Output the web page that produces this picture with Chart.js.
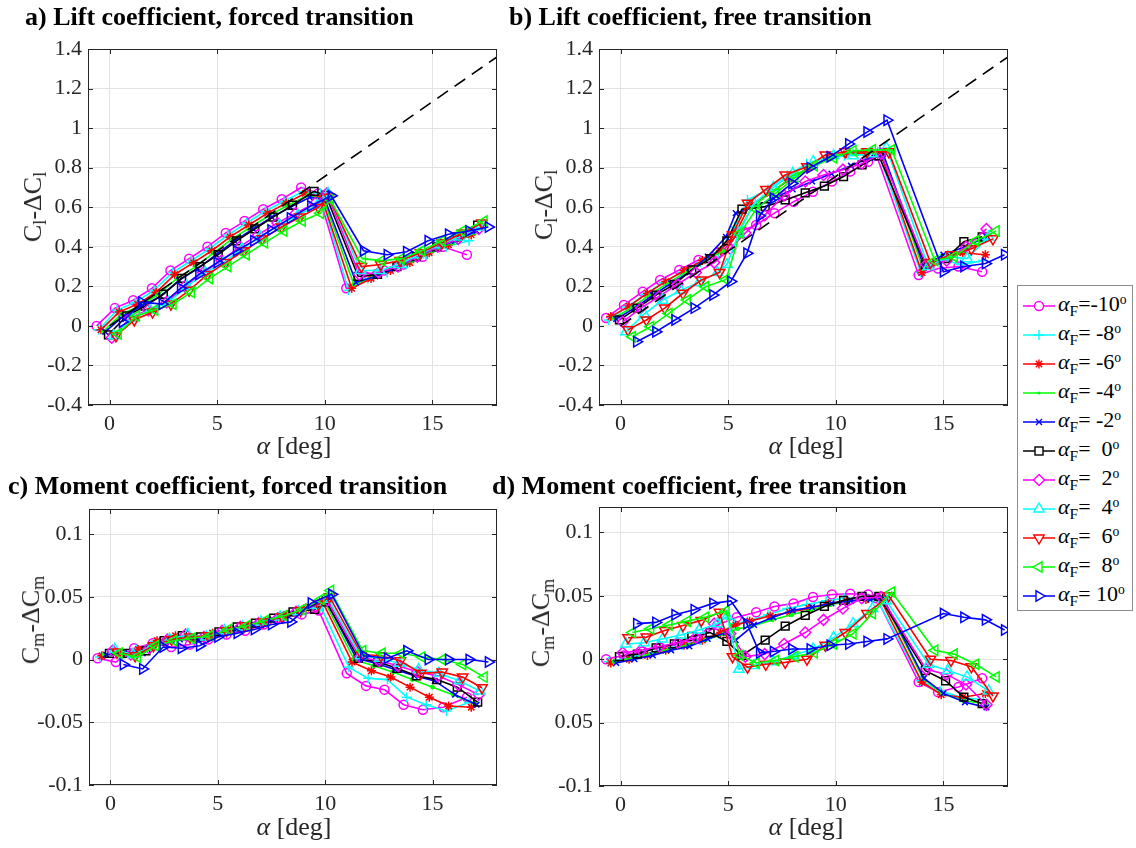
<!DOCTYPE html>
<html>
<head>
<meta charset="utf-8">
<script src="https://cdn.jsdelivr.net/npm/chart.js@4/dist/chart.umd.min.js"></script>
<style>
  body { margin: 0; background: #fff; }
  #fig { position: relative; width: 1136px; height: 848px; overflow: hidden;
         font-family: "Liberation Serif", "Times New Roman", serif; color: #000; }
  #fig canvas { position: absolute; }
  .title { position: absolute; font-weight: bold; font-size: 26px; line-height: 26px; white-space: nowrap; }
  .xlab { position: absolute; font-size: 26px; line-height: 30px; white-space: nowrap;
          transform: translateX(-50%); color: #262626; }
  .ylab { position: absolute; font-size: 26px; line-height: 30px; white-space: nowrap;
          transform: translate(-50%, -50%) rotate(-90deg); color: #262626; }
  .ylab sub { font-size: 70%; vertical-align: -0.3em; line-height: 0; }
  #legend { position: absolute; left: 1017px; top: 285px; width: 114px; height: 324px;
            border: 1px solid #8c8c8c; background: #fff; }
  .entry { position: absolute; left: 0; height: 24px; width: 114px; }
  .entry svg { position: absolute; left: 5px; top: 2px; }
  .entry span { position: absolute; left: 40px; top: -3px; font-size: 22px; line-height: 26px;
                white-space: pre; }
  .entry sub { font-size: 70%; vertical-align: -0.35em; line-height: 0; }
  .entry sup { font-size: 62%; vertical-align: 0.55em; line-height: 0; }
</style>
</head>
<body>
<div id="fig">
  <canvas id="pa" width="504" height="416" style="left:8px;top:29px"></canvas>
  <canvas id="pb" width="504" height="416" style="left:519px;top:29px"></canvas>
  <canvas id="pc" width="503" height="336" style="left:9px;top:489px"></canvas>
  <canvas id="pd" width="504" height="339" style="left:519px;top:487px"></canvas>

  <div class="title" style="left:25px;top:4px">a) Lift coefficient, forced transition</div>
  <div class="title" style="left:509px;top:4px">b) Lift coefficient, free transition</div>
  <div class="title" style="left:8px;top:473px">c) Moment coefficient, forced transition</div>
  <div class="title" style="left:492px;top:473px">d) Moment coefficient, free transition</div>

  <div class="xlab" style="left:294px;top:431px"><i>α</i> [deg]</div>
  <div class="xlab" style="left:806px;top:431px"><i>α</i> [deg]</div>
  <div class="xlab" style="left:294px;top:812px"><i>α</i> [deg]</div>
  <div class="xlab" style="left:806px;top:812px"><i>α</i> [deg]</div>

  <div class="ylab" style="left:33px;top:207px">C<sub>l</sub>-ΔC<sub>l</sub></div>
  <div class="ylab" style="left:544px;top:205px">C<sub>l</sub>-ΔC<sub>l</sub></div>
  <div class="ylab" style="left:31px;top:620px">C<sub>m</sub>-ΔC<sub>m</sub></div>
  <div class="ylab" style="left:541px;top:623px">C<sub>m</sub>-ΔC<sub>m</sub></div>

  <div id="legend"></div>
</div>

<script>
// ---- series definition ----
const flapLabels = ['-10', ' -8', ' -6', ' -4', ' -2', '  0', '  2', '  4', '  6', '  8', ' 10'];
const seriesColors = ['#ff00ff', '#00ffff', '#ff0000', '#00ff00', '#0000ff', '#000000',
                      '#ff00ff', '#00ffff', '#ff0000', '#00ff00', '#0000ff'];
const seriesMarkers = ['circle', 'cross', 'star', 'dot', 'crossRot', 'rect',
                       'rectRot', 'triangle', 'triangle', 'triangle', 'triangle'];
const seriesRotation = [0, 0, 0, 0, 0, 0, 0, 0, 180, 270, 90];

// ---- ticks ----
const xTickValues = [0, 5, 10, 15];
const liftTickValues = [-0.4, -0.2, 0, 0.2, 0.4, 0.6, 0.8, 1, 1.2, 1.4];
const liftTickText = ['-0.4', '-0.2', '0', '0.2', '0.4', '0.6', '0.8', '1', '1.2', '1.4'];
const momentTickValues = [-0.1, -0.05, 0, 0.05, 0.1];
const momentForcedTickText = ['-0.1', '-0.05', '0', '0.05', '0.1'];
const momentFreeTickText = ['-0.1', '0.05', '0', '0.05', '0.1'];

// ---- linear reference (dashed) ----
const refAlpha = [0, 18];
const refLift = [0, 1.36];

// ---- forced transition: angle of attack per series ----
const alphaForced = [
  [-0.6, 0.25, 1.1, 1.97, 2.83, 3.7, 4.55, 5.4, 6.27, 7.14, 8.0, 8.9, 9.7, 11.0, 11.9, 12.76, 13.65, 14.55, 15.5, 16.6],
  [-0.5, 0.35, 1.2, 2.07, 2.93, 3.8, 4.65, 5.5, 6.37, 7.24, 8.1, 9.0, 9.8, 11.1, 12.0, 12.9, 13.8, 14.7, 15.65, 16.7],
  [-0.4, 0.45, 1.3, 2.17, 3.03, 3.9, 4.75, 5.6, 6.47, 7.34, 8.2, 9.1, 9.85, 11.25, 12.15, 13.05, 13.95, 14.85, 15.75, 16.8],
  [-0.3, 0.55, 1.4, 2.27, 3.13, 4.0, 4.85, 5.7, 6.57, 7.44, 8.3, 9.2, 9.95, 11.35, 12.25, 13.15, 14.05, 15.0, 15.95, 16.95],
  [-0.2, 0.65, 1.5, 2.37, 3.23, 4.1, 4.95, 5.8, 6.67, 7.54, 8.4, 9.3, 10.0, 11.45, 12.35, 13.25, 14.15, 15.1, 16.05, 17.05],
  [-0.05, 0.8, 1.65, 2.5, 3.35, 4.2, 5.05, 5.9, 6.75, 7.6, 8.5, 9.5, 10.05, 11.55, 12.45, 13.35, 14.25, 15.2, 16.15, 17.1],
  [0.1, 0.95, 1.8, 2.65, 3.5, 4.35, 5.2, 6.05, 6.9, 7.8, 8.65, 9.55, 10.1, 11.6, 12.5, 13.4, 14.3, 15.25, 16.2, 17.15],
  [0.2, 1.05, 1.9, 2.75, 3.6, 4.45, 5.3, 6.15, 7.0, 7.9, 8.75, 9.65, 10.15, 11.65, 12.55, 13.45, 14.35, 15.3, 16.25, 17.2],
  [0.3, 1.15, 2.0, 2.85, 3.7, 4.55, 5.4, 6.25, 7.1, 8.0, 8.85, 9.7, 10.2, 11.7, 12.6, 13.5, 14.45, 15.45, 16.4, 17.3],
  [0.4, 1.25, 2.1, 2.95, 3.8, 4.65, 5.5, 6.35, 7.2, 8.1, 8.95, 9.8, 10.25, 11.75, 12.65, 13.55, 14.5, 15.45, 16.4, 17.4],
  [0.6, 1.5, 2.45, 3.3, 4.15, 5.0, 5.9, 6.7, 7.5, 8.4, 9.35, 10.3, 11.8, 12.9, 13.8, 14.8, 15.75, 16.7, 17.6]
];

// ---- forced transition: lift ----
const liftForced = [
  [0.00, 0.09, 0.13, 0.19, 0.28, 0.34, 0.40, 0.47, 0.53, 0.59, 0.64, 0.70, 0.67, 0.19, 0.25, 0.28, 0.31, 0.35, 0.40, 0.36],
  [-0.02, 0.08, 0.12, 0.18, 0.27, 0.33, 0.39, 0.46, 0.52, 0.58, 0.63, 0.68, 0.67, 0.18, 0.24, 0.27, 0.31, 0.36, 0.40, 0.43],
  [-0.02, 0.07, 0.11, 0.17, 0.26, 0.32, 0.38, 0.45, 0.51, 0.57, 0.62, 0.67, 0.65, 0.19, 0.24, 0.28, 0.32, 0.37, 0.41, 0.46],
  [-0.03, 0.06, 0.10, 0.16, 0.24, 0.30, 0.37, 0.44, 0.50, 0.56, 0.61, 0.66, 0.64, 0.21, 0.25, 0.29, 0.33, 0.38, 0.42, 0.47],
  [-0.03, 0.05, 0.10, 0.15, 0.23, 0.29, 0.36, 0.43, 0.49, 0.55, 0.60, 0.65, 0.64, 0.22, 0.25, 0.29, 0.34, 0.39, 0.43, 0.48],
  [-0.045, 0.05, 0.10, 0.16, 0.24, 0.30, 0.36, 0.43, 0.49, 0.55, 0.61, 0.68, 0.66, 0.25, 0.26, 0.30, 0.35, 0.40, 0.45, 0.51],
  [-0.06, 0.04, 0.08, 0.12, 0.20, 0.27, 0.33, 0.40, 0.46, 0.52, 0.57, 0.62, 0.67, 0.26, 0.27, 0.30, 0.35, 0.40, 0.44, 0.49],
  [-0.05, 0.04, 0.08, 0.12, 0.20, 0.27, 0.32, 0.39, 0.45, 0.51, 0.56, 0.61, 0.67, 0.28, 0.28, 0.31, 0.36, 0.41, 0.45, 0.50],
  [-0.05, 0.03, 0.07, 0.11, 0.18, 0.26, 0.32, 0.38, 0.44, 0.50, 0.55, 0.60, 0.65, 0.30, 0.31, 0.33, 0.37, 0.42, 0.47, 0.52],
  [-0.04, 0.05, 0.08, 0.11, 0.17, 0.24, 0.30, 0.36, 0.42, 0.48, 0.53, 0.57, 0.64, 0.34, 0.33, 0.34, 0.38, 0.43, 0.48, 0.53],
  [0.02, 0.12, 0.11, 0.19, 0.26, 0.32, 0.38, 0.43, 0.485, 0.545, 0.606, 0.658, 0.38, 0.36, 0.375, 0.43, 0.463, 0.48, 0.50]
];

// ---- forced transition: moment ----
const momentForced = [
  [0.001, -0.002, 0.009, 0.013, 0.010, 0.012, 0.016, 0.020, 0.023, 0.028, 0.034, 0.036, 0.039, -0.011, -0.021, -0.024, -0.036, -0.040, -0.038, -0.030],
  [0.002, 0.004, 0.008, 0.014, 0.017, 0.016, 0.020, 0.023, 0.026, 0.030, 0.035, 0.040, 0.042, -0.006, -0.015, -0.016, -0.030, -0.036, -0.041, -0.034],
  [0.003, 0.005, 0.008, 0.015, 0.019, 0.017, 0.021, 0.024, 0.027, 0.031, 0.036, 0.041, 0.047, -0.002, -0.009, -0.014, -0.022, -0.030, -0.037, -0.038],
  [0.004, 0.005, 0.006, 0.014, 0.018, 0.017, 0.021, 0.024, 0.027, 0.031, 0.036, 0.041, 0.047, 0.000, -0.005, -0.010, -0.016, -0.022, -0.028, -0.035],
  [0.004, 0.006, 0.005, 0.013, 0.016, 0.016, 0.021, 0.025, 0.028, 0.032, 0.037, 0.042, 0.048, 0.001, -0.003, -0.008, -0.013, -0.017, -0.028, -0.036],
  [0.005, 0.005, 0.007, 0.015, 0.019, 0.018, 0.022, 0.026, 0.029, 0.033, 0.038, 0.040, 0.046, 0.001, -0.002, -0.007, -0.013, -0.016, -0.022, -0.034],
  [0.007, 0.004, 0.009, 0.016, 0.020, 0.018, 0.023, 0.026, 0.029, 0.033, 0.038, 0.042, 0.047, 0.002, -0.001, -0.005, -0.010, -0.013, -0.020, -0.028],
  [0.008, 0.004, 0.010, 0.016, 0.020, 0.018, 0.023, 0.026, 0.030, 0.034, 0.038, 0.043, 0.048, 0.003, 0.001, -0.003, -0.008, -0.011, -0.017, -0.025],
  [0.006, 0.003, 0.011, 0.016, 0.018, 0.019, 0.023, 0.027, 0.030, 0.034, 0.039, 0.044, 0.050, 0.004, 0.003, -0.001, -0.011, -0.010, -0.014, -0.0225],
  [0.005, 0.002, 0.011, 0.015, 0.017, 0.019, 0.024, 0.027, 0.031, 0.035, 0.040, 0.048, 0.055, 0.007, 0.005, 0.005, 0.002, 0.000, -0.004, -0.014],
  [-0.004, -0.0075, 0.010, 0.009, 0.011, 0.018, 0.021, 0.024, 0.028, 0.030, 0.045, 0.052, 0.003, 0.001, 0.007, 0.000, 0.000, 0.000, -0.002]
];

// ---- free transition: angle of attack per series ----
const alphaFree = [
  [-0.67, 0.16, 1.03, 1.84, 2.73, 3.62, 4.5, 5.4, 6.3, 7.15, 8.04, 8.94, 9.82, 10.67, 11.5, 11.9, 13.85, 14.75, 15.7, 16.8],
  [-0.55, 0.3, 1.15, 2.0, 2.85, 3.7, 4.55, 5.3, 5.9, 6.85, 7.75, 8.65, 9.55, 10.4, 11.3, 11.95, 13.95, 14.85, 15.8, 16.85],
  [-0.45, 0.4, 1.25, 2.1, 2.95, 3.8, 4.65, 5.35, 6.0, 6.95, 7.85, 8.75, 9.65, 10.5, 11.4, 12.05, 14.0, 14.9, 15.9, 16.95],
  [-0.3, 0.55, 1.4, 2.25, 3.1, 3.95, 4.8, 5.45, 6.1, 7.05, 7.95, 8.85, 9.75, 10.6, 11.5, 12.15, 14.05, 14.95, 15.95, 17.0],
  [-0.2, 0.65, 1.5, 2.35, 3.2, 4.05, 4.9, 5.35, 6.2, 7.1, 8.0, 8.9, 9.8, 10.7, 11.6, 12.2, 14.1, 15.0, 16.0, 17.0],
  [-0.05, 0.78, 1.65, 2.5, 3.31, 4.16, 4.94, 5.64, 6.72, 7.65, 8.58, 9.47, 10.36, 11.22, 12.0, 14.16, 15.1, 15.95, 16.8],
  [0.1, 0.95, 1.8, 2.65, 3.5, 4.35, 5.1, 5.8, 6.7, 7.6, 8.58, 9.43, 10.33, 11.2, 12.1, 14.2, 15.15, 16.05, 17.0],
  [0.25, 1.1, 1.95, 2.8, 3.65, 4.5, 4.95, 5.5, 6.2, 7.1, 8.0, 8.95, 9.9, 10.8, 11.7, 12.35, 14.3, 15.2, 16.1, 17.1],
  [0.35, 1.2, 2.05, 2.9, 3.75, 4.6, 5.2, 5.9, 6.75, 7.65, 8.66, 9.51, 10.44, 11.45, 12.46, 14.4, 15.35, 16.3, 17.3],
  [0.55, 1.4, 2.25, 3.1, 3.95, 4.9, 5.55, 6.3, 7.2, 8.1, 9.0, 9.9, 10.8, 11.7, 12.6, 14.6, 15.5, 16.5, 17.45],
  [0.75, 1.64, 2.53, 3.42, 4.29, 5.12, 5.87, 6.46, 7.1, 7.96, 8.81, 9.74, 10.6, 11.45, 12.38, 15.0, 15.95, 16.95, 17.84]
];

// ---- free transition: lift ----
const liftFree = [
  [0.04, 0.106, 0.173, 0.232, 0.283, 0.333, 0.37, 0.47, 0.51, 0.57, 0.628, 0.678, 0.73, 0.78, 0.83, 0.86, 0.257, 0.29, 0.30, 0.274],
  [0.03, 0.095, 0.16, 0.22, 0.27, 0.32, 0.37, 0.50, 0.637, 0.69, 0.76, 0.82, 0.85, 0.86, 0.87, 0.88, 0.27, 0.34, 0.31, 0.33],
  [0.047, 0.10, 0.165, 0.225, 0.28, 0.33, 0.38, 0.47, 0.61, 0.67, 0.74, 0.80, 0.85, 0.87, 0.875, 0.88, 0.27, 0.33, 0.37, 0.36],
  [0.04, 0.095, 0.16, 0.22, 0.275, 0.33, 0.38, 0.47, 0.60, 0.68, 0.75, 0.81, 0.85, 0.88, 0.88, 0.885, 0.29, 0.34, 0.38, 0.44],
  [0.035, 0.09, 0.155, 0.215, 0.27, 0.35, 0.45, 0.57, 0.60, 0.645, 0.69, 0.73, 0.77, 0.81, 0.85, 0.87, 0.30, 0.36, 0.40, 0.45],
  [0.03, 0.09, 0.156, 0.21, 0.283, 0.34, 0.43, 0.59, 0.603, 0.637, 0.673, 0.707, 0.755, 0.814, 0.86, 0.31, 0.34, 0.426, 0.45],
  [0.02, 0.09, 0.15, 0.21, 0.27, 0.32, 0.39, 0.47, 0.56, 0.66, 0.73, 0.763, 0.79, 0.82, 0.87, 0.31, 0.33, 0.40, 0.49],
  [-0.03, 0.06, 0.13, 0.18, 0.22, 0.27, 0.31, 0.47, 0.62, 0.70, 0.77, 0.83, 0.86, 0.86, 0.87, 0.90, 0.30, 0.35, 0.34, 0.45],
  [-0.02, 0.03, 0.09, 0.165, 0.232, 0.27, 0.46, 0.62, 0.69, 0.763, 0.805, 0.864, 0.88, 0.88, 0.88, 0.32, 0.36, 0.39, 0.44],
  [-0.055, -0.004, 0.063, 0.131, 0.198, 0.235, 0.468, 0.59, 0.67, 0.75, 0.81, 0.85, 0.885, 0.89, 0.89, 0.33, 0.35, 0.43, 0.48],
  [-0.08, -0.03, 0.03, 0.09, 0.156, 0.224, 0.367, 0.556, 0.645, 0.72, 0.80, 0.855, 0.92, 0.98, 1.04, 0.274, 0.30, 0.315, 0.36]
];

// ---- free transition: moment ----
const momentFree = [
  [0.0, 0.003, 0.006, 0.009, 0.012, 0.016, 0.027, 0.033, 0.037, 0.0416, 0.044, 0.049, 0.051, 0.0516, 0.051, 0.048, -0.018, -0.026, -0.022, -0.015],
  [-0.002, 0.001, 0.004, 0.008, 0.011, 0.015, 0.020, 0.028, 0.030, 0.035, 0.040, 0.043, 0.046, 0.048, 0.048, 0.046, -0.017, -0.025, -0.030, -0.032],
  [-0.003, 0.0, 0.003, 0.007, 0.011, 0.015, 0.021, 0.027, 0.030, 0.034, 0.037, 0.040, 0.044, 0.046, 0.047, 0.048, -0.018, -0.028, -0.030, -0.027],
  [-0.002, 0.001, 0.004, 0.008, 0.011, 0.015, 0.020, 0.024, 0.026, 0.031, 0.035, 0.039, 0.043, 0.046, 0.047, 0.048, -0.015, -0.027, -0.033, -0.035],
  [-0.003, 0.0, 0.003, 0.007, 0.010, 0.016, 0.021, 0.015, 0.027, 0.033, 0.0385, 0.041, 0.044, 0.046, 0.047, 0.048, -0.015, -0.027, -0.034, -0.038],
  [0.002, 0.004, 0.009, 0.012, 0.018, 0.021, 0.014, 0.003, 0.015, 0.026, 0.0345, 0.0416, 0.0464, 0.0495, 0.0495, -0.009, -0.017, -0.030, -0.035],
  [0.005, 0.007, 0.010, 0.013, 0.017, 0.028, 0.020, 0.002, 0.004, 0.012, 0.021, 0.031, 0.040, 0.048, 0.049, -0.008, -0.012, -0.020, -0.036],
  [0.012, 0.013, 0.016, 0.019, 0.023, 0.028, 0.034, -0.008, -0.005, -0.002, 0.003, 0.008, 0.017, 0.028, 0.040, 0.046, -0.004, -0.009, -0.014, -0.025],
  [0.0169, 0.0174, 0.0227, 0.0266, 0.0306, 0.037, 0.002, -0.0063, -0.004, -0.0025, 0.0, 0.011, 0.021, 0.036, 0.05, 0.0, -0.001, -0.006, -0.029],
  [0.021, 0.024, 0.027, 0.030, 0.033, 0.038, 0.003, -0.003, -0.001, 0.002, 0.005, 0.012, 0.02, 0.036, 0.053, 0.007, 0.004, -0.004, -0.014],
  [0.028, 0.029, 0.035, 0.039, 0.044, 0.046, 0.028, 0.005, 0.006, 0.008, 0.008, 0.011, 0.012, 0.014, 0.016, 0.036, 0.033, 0.031, 0.023]
];

const serifFamily = '"Liberation Serif", "Times New Roman", serif';
Chart.defaults.font.family = serifFamily;

// box round the axes + inward tick marks, like matlab "box on"
const framePlugin = {
  id: 'frame',
  afterDraw(chart) {
    const { ctx, chartArea: a } = chart;
    const sx = chart.scales.x, sy = chart.scales.y;
    ctx.save();
    ctx.strokeStyle = '#262626';
    ctx.lineWidth = 1;
    ctx.beginPath();
    sx.ticks.forEach(t => {
      const px = Math.round(sx.getPixelForValue(t.value)) + 0.5;
      ctx.moveTo(px, a.bottom); ctx.lineTo(px, a.bottom - 5);
      ctx.moveTo(px, a.top); ctx.lineTo(px, a.top + 5);
    });
    sy.ticks.forEach(t => {
      const py = Math.round(sy.getPixelForValue(t.value)) + 0.5;
      ctx.moveTo(a.left, py); ctx.lineTo(a.left + 5, py);
      ctx.moveTo(a.right, py); ctx.lineTo(a.right - 5, py);
    });
    ctx.stroke();
    ctx.strokeRect(Math.round(a.left) + 0.5, Math.round(a.top) + 0.5,
                   Math.round(a.right - a.left) - 1, Math.round(a.bottom - a.top) - 1);
    ctx.restore();
  }
};

function markerStyle(k) {
  const m = seriesMarkers[k];
  if (m === 'dot') return { pointStyle: 'circle', radius: 1.6, fill: seriesColors[k] };
  const radius = { circle: 4.5, cross: 5, star: 4.5, crossRot: 4, rect: 5.5, rectRot: 5.5, triangle: 6 }[m];
  return { pointStyle: m, radius, fill: 'rgba(0,0,0,0)' };
}

function buildPanel(canvasId, alphaRows, valueRows, yMin, yMax, yTicks, yTickText, showRef) {
  const datasets = flapLabels.map((f, k) => {
    const ms = markerStyle(k);
    return {
      label: 'αF=' + f.trim() + '°',
      data: alphaRows[k].map((a, j) => ({ x: a, y: valueRows[k][j] })),
      borderColor: seriesColors[k],
      backgroundColor: seriesColors[k],
      borderWidth: 1.6,
      pointStyle: ms.pointStyle,
      pointRadius: ms.radius,
      pointRotation: seriesRotation[k],
      pointBorderColor: seriesColors[k],
      pointBackgroundColor: ms.fill,
      pointBorderWidth: 1.5,
      tension: 0,
      order: 10 - k,
    };
  });
  if (showRef) {
    datasets.push({
      label: 'linear',
      data: refAlpha.map((a, j) => ({ x: a, y: refLift[j] })),
      borderColor: '#000',
      borderWidth: 1.6,
      borderDash: [13, 8],
      pointRadius: 0,
      order: -1,
    });
  }
  const tickFont = { family: serifFamily, size: 22 };
  new Chart(document.getElementById(canvasId), {
    type: 'line',
    data: { datasets },
    plugins: [framePlugin],
    options: {
      responsive: false,
      devicePixelRatio: 1,
      animation: false,
      layout: { padding: { left: 0, top: 20, right: 15, bottom: 0 } },
      plugins: { legend: { display: false }, tooltip: { enabled: false } },
      scales: {
        x: {
          type: 'linear', min: -1, max: 18,
          afterBuildTicks: s => { s.ticks = xTickValues.map(v => ({ value: v })); },
          afterFit: s => { s.height = 40; },
          ticks: { autoSkip: false, maxRotation: 0, padding: 6, color: '#262626',
                   font: tickFont, callback: v => String(v) },
          grid: { color: '#e3e3e3', drawTicks: false },
          border: { display: false },
        },
        y: {
          type: 'linear', min: yMin, max: yMax,
          afterBuildTicks: s => { s.ticks = yTicks.map(v => ({ value: v })); },
          afterFit: s => { s.width = 80; },
          ticks: { autoSkip: false, padding: 6, color: '#262626', font: tickFont,
                   callback: v => yTickText[yTicks.indexOf(v)] },
          grid: { color: '#e3e3e3', drawTicks: false },
          border: { display: false },
        },
      },
    },
  });
}

function drawAll() {
  buildPanel('pa', alphaForced, liftForced, -0.4, 1.4, liftTickValues, liftTickText, true);
  buildPanel('pb', alphaFree, liftFree, -0.4, 1.4, liftTickValues, liftTickText, true);
  buildPanel('pc', alphaForced, momentForced, -0.1, 0.12, momentTickValues, momentForcedTickText, false);
  buildPanel('pd', alphaFree, momentFree, -0.1, 0.12, momentTickValues, momentFreeTickText, false);
}

// ---- legend (html, with svg marker samples) ----
function markerSvg(k) {
  const c = seriesColors[k], cx = 16, cy = 10;
  const line = `<line x1="0" y1="${cy}" x2="32" y2="${cy}" stroke="${c}" stroke-width="1.5"/>`;
  let mk = '';
  switch (seriesMarkers[k]) {
    case 'circle': mk = `<circle cx="${cx}" cy="${cy}" r="4.5" fill="#fff" stroke="${c}" stroke-width="1.4"/>`; break;
    case 'cross': mk = `<path d="M${cx - 5} ${cy}H${cx + 5}M${cx} ${cy - 5}V${cy + 5}" stroke="${c}" stroke-width="1.4"/>`; break;
    case 'star': mk = `<path d="M${cx - 4.5} ${cy}H${cx + 4.5}M${cx} ${cy - 4.5}V${cy + 4.5}M${cx - 3.2} ${cy - 3.2}L${cx + 3.2} ${cy + 3.2}M${cx - 3.2} ${cy + 3.2}L${cx + 3.2} ${cy - 3.2}" stroke="${c}" stroke-width="1.4"/>`; break;
    case 'dot': mk = `<circle cx="${cx}" cy="${cy}" r="1.6" fill="${c}"/>`; break;
    case 'crossRot': mk = `<path d="M${cx - 3} ${cy - 3}L${cx + 3} ${cy + 3}M${cx - 3} ${cy + 3}L${cx + 3} ${cy - 3}" stroke="${c}" stroke-width="1.4"/>`; break;
    case 'rect': mk = `<rect x="${cx - 4}" y="${cy - 4}" width="8" height="8" fill="#fff" stroke="${c}" stroke-width="1.4"/>`; break;
    case 'rectRot': mk = `<path d="M${cx} ${cy - 5.5}L${cx + 5.5} ${cy}L${cx} ${cy + 5.5}L${cx - 5.5} ${cy}Z" fill="#fff" stroke="${c}" stroke-width="1.4"/>`; break;
    case 'triangle': mk = `<path d="M${cx} ${cy - 6}L${cx + 5.2} ${cy + 3}L${cx - 5.2} ${cy + 3}Z" fill="#fff" stroke="${c}" stroke-width="1.4" transform="rotate(${seriesRotation[k]} ${cx} ${cy})"/>`; break;
  }
  return `<svg width="32" height="20" viewBox="0 0 32 20">${line}${mk}</svg>`;
}

const legend = document.getElementById('legend');
legend.innerHTML = flapLabels.map((f, k) =>
  `<div class="entry" style="top:${8 + 29 * k}px">${markerSvg(k)}<span><i>α</i><sub>F</sub>=${f}<sup>o</sup></span></div>`
).join('');

// make sure the serif face is ready before the canvases draw their text
if (document.fonts && document.fonts.load) {
  document.fonts.load('22px "Liberation Serif"').then(drawAll, drawAll);
} else {
  drawAll();
}
</script>
</body>
</html>
